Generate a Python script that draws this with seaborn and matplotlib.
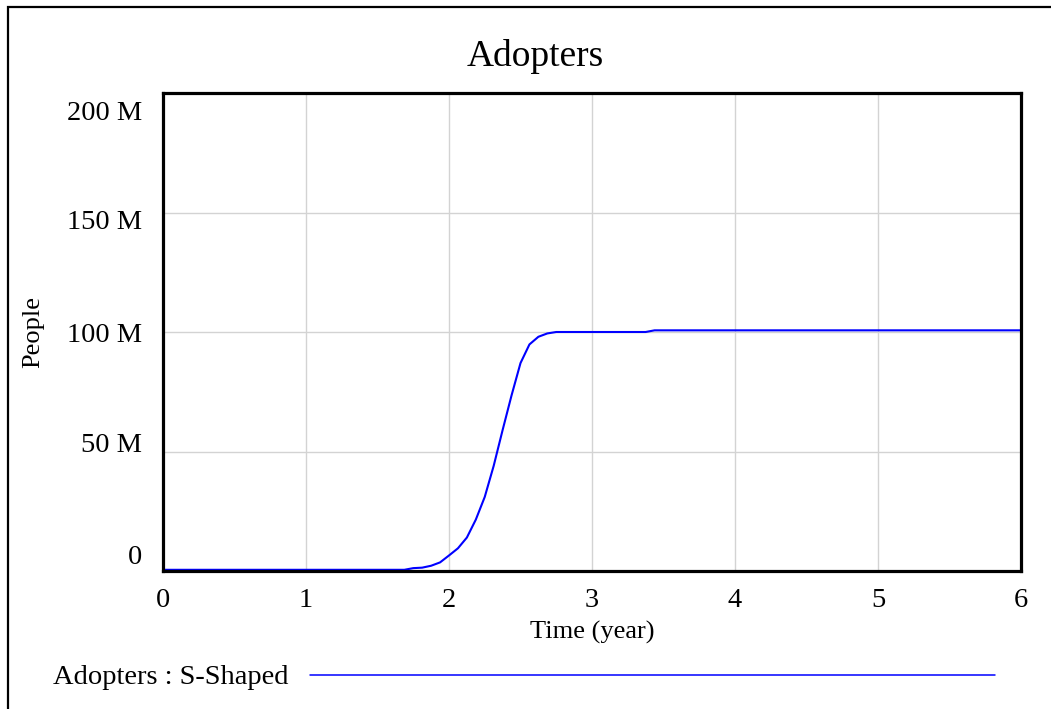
import numpy as np
import pandas as pd
import matplotlib
matplotlib.use("Agg")
import matplotlib.pyplot as plt
import matplotlib.transforms as mtransforms
from matplotlib.lines import Line2D
from matplotlib.patches import Rectangle
import seaborn as sns

# values (millions of people)
time_years = [0.0, 1.6875, 1.75, 1.8125, 1.875, 1.9375, 2.0, 2.0625, 2.125, 2.1875,
              2.25, 2.3125, 2.375, 2.4375, 2.5, 2.5625, 2.625, 2.6875, 2.75,
              3.375, 3.4375, 6.0]
adopters_m = [0.5, 0.5, 1.2, 1.4, 2.2, 3.6, 6.5, 9.5, 14.0, 21.5,
              31.0, 44.0, 59.0, 73.5, 87.0, 94.8, 98.0, 99.4, 100.0,
              100.0, 100.7, 100.7]
x_ticks = [0, 1, 2, 3, 4, 5, 6]
y_ticks = [0, 50, 100, 150, 200]
y_tick_labels = ["0", "50 M", "100 M", "150 M", "200 M"]
series_label = "Adopters : S-Shaped"

df = pd.DataFrame({"Time": time_years, "Adopters": adopters_m})

sns.set_style("white")
plt.rcParams["font.family"] = ["Liberation Serif", "DejaVu Serif"]
plt.rcParams["text.color"] = "black"
plt.rcParams["axes.labelcolor"] = "black"

W, H = 1051, 709
fig = plt.figure(figsize=(W / 100, H / 100), dpi=100)
ax = fig.add_axes([163 / W, 1 - 571 / H, (1021 - 163) / W, (571 - 93) / H])

sns.lineplot(data=df, x="Time", y="Adopters", ax=ax, color="#0000ff", linewidth=1.5)

ax.set_xlim(0, 6)
ax.set_ylim(0, 200)
ax.set_xticks(x_ticks)
ax.set_xticklabels([str(t) for t in x_ticks], fontsize=20.5)
ax.set_yticks(y_ticks)
ax.set_yticklabels(y_tick_labels, fontsize=20.5)
ax.tick_params(axis="both", length=0, colors="black")
ax.tick_params(axis="x", pad=12)
ax.tick_params(axis="y", pad=15)

# vensim spreads y labels evenly between the top and bottom
shifts_px = [16, 8.5, 0, -7, -17]
for lab, s in zip(ax.get_yticklabels(), shifts_px):
    lab.set_transform(lab.get_transform() + mtransforms.ScaledTranslation(0, s / 100, fig.dpi_scale_trans))

ax.grid(True, color="#d3d3d3", linewidth=1)
for sp in ax.spines.values():
    sp.set_visible(True)
    sp.set_color("black")
    sp.set_linewidth(2.3)

ax.set_xlabel("Time (year)", fontsize=19, labelpad=6)
ax.set_ylabel("People", fontsize=19, labelpad=16)

fig.text(535 / W, 1 - 56 / H, "Adopters", fontsize=27, ha="center", va="center")

# legend row under the chart
fig.text(53 / W, 1 - 678 / H, series_label, fontsize=20.5, ha="left", va="center")
fig.add_artist(Line2D([310 / W, 995 / W], [1 - 675 / H, 1 - 675 / H], color="#0000ff", linewidth=1.1))

# outer frame
fig.add_artist(Rectangle((8 / W, -0.05), 1.2, 1 - 7 / H + 0.05, fill=False,
                         edgecolor="black", linewidth=1.6, transform=fig.transFigure))

fig.savefig("out.png", dpi=100)
